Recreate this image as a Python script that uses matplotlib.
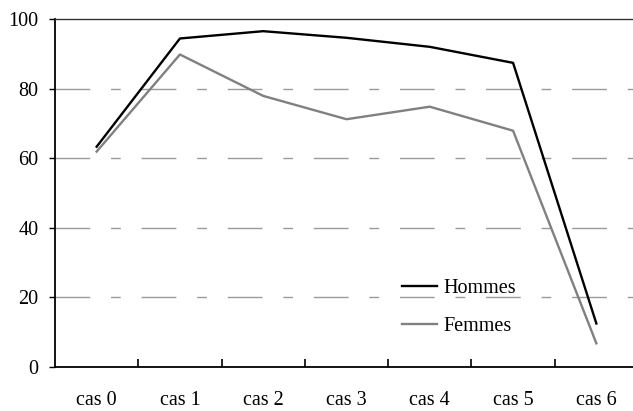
import matplotlib.pyplot as plt

# data
categories = ['cas 0', 'cas 1', 'cas 2', 'cas 3', 'cas 4', 'cas 5', 'cas 6']
hommes = [63.3, 94.4, 96.5, 94.6, 92.0, 87.4, 12.5]
femmes = [61.9, 89.8, 77.9, 71.2, 74.8, 67.9, 6.8]

plt.rcParams['font.family'] = ['Liberation Serif', 'DejaVu Serif']
plt.rcParams['font.size'] = 14.5

W, H = 633, 411
fig = plt.figure(figsize=(W / 100, H / 100), dpi=100)
# plot area: x 55..638 px (right edge runs off the image), y 19..367 px
ax = fig.add_axes([55 / W, (H - 367) / H, (638 - 55) / W, (367 - 19) / H])

x = list(range(len(categories)))
ax.plot(x, hommes, color='black', lw=1.7, label='Hommes')
ax.plot(x, femmes, color='#808080', lw=1.7, label='Femmes')

ax.set_xlim(-0.5, len(categories) - 0.5)
ax.set_ylim(0, 100)
ax.set_yticks([0, 20, 40, 60, 80, 100])
ax.set_xticks(x)
ax.set_xticklabels(categories)
ax.set_xticks([i + 0.5 for i in x[:-1]], minor=True)

ax.tick_params(axis='x', which='major', length=0, pad=17)
ax.tick_params(axis='x', which='minor', direction='in', length=6, width=1.2)
ax.tick_params(axis='y', direction='out', length=4, width=1, pad=8)

for yv in [20, 40, 60, 80]:
    ax.axhline(yv, color='#9a9a9a', lw=1, dashes=(25, 15, 7, 15), zorder=0)

ax.spines['right'].set_visible(False)
ax.spines['top'].set_color('#333333')
ax.spines['top'].set_linewidth(1.0)
ax.spines['left'].set_linewidth(1.3)
ax.spines['bottom'].set_linewidth(1.3)

ax.legend(loc='upper left', bbox_to_anchor=((402 - 55) / 583, (367 - 279) / 348),
          frameon=False, handlelength=1.75, handletextpad=0.3, labelspacing=0.95,
          borderpad=0, borderaxespad=0)

fig.savefig('out.png', dpi=100)
